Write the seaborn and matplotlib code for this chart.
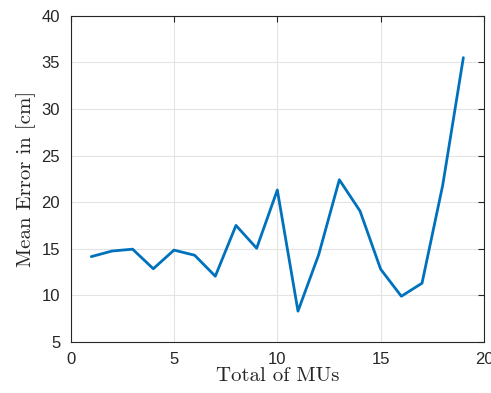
import matplotlib
matplotlib.use("Agg")
import matplotlib.pyplot as plt
import seaborn as sns
import pandas as pd

total_mus = list(range(1, 20))
mean_error = [14.15, 14.75, 14.95, 12.85, 14.85, 14.3, 12.05, 17.5, 15.05, 21.3,
              8.3, 14.35, 22.4, 19.05, 12.8, 9.9, 11.3, 21.8, 35.5]
x_ticks = [0, 5, 10, 15, 20]
y_ticks = [5, 10, 15, 20, 25, 30, 35, 40]

sns.set_style("white")
plt.rcParams['font.family'] = ['Liberation Sans', 'DejaVu Sans']

df = pd.DataFrame({"x": total_mus, "y": mean_error})
fig = plt.figure(figsize=(4.91, 3.93), dpi=100)
ax = fig.add_axes([0.1438, 0.13, 0.842, 0.83])
sns.lineplot(data=df, x="x", y="y", ax=ax, color="#0072BD", linewidth=2)

ax.set_xlim(0, 20)
ax.set_ylim(5, 40)
ax.set_xticks(x_ticks)
ax.set_yticks(y_ticks)
ax.grid(True, color="#e3e3e3", linewidth=0.8)
ax.set_axisbelow(True)
for s in ax.spines.values():
    s.set_color("#262626")
    s.set_linewidth(0.8)
ax.tick_params(direction="in", length=4, width=0.8, colors="#262626", pad=7.5,
               labelsize=12, top=True, right=True, labeltop=False, labelright=False)
ax.set_xlabel("Total of MUs", fontfamily="cmr10", fontsize=15, color="#262626", labelpad=0)
ax.set_ylabel("Mean Error in [cm]", fontfamily="cmr10", fontsize=15, color="#262626", labelpad=4)

fig.savefig("out.png", dpi=100)
